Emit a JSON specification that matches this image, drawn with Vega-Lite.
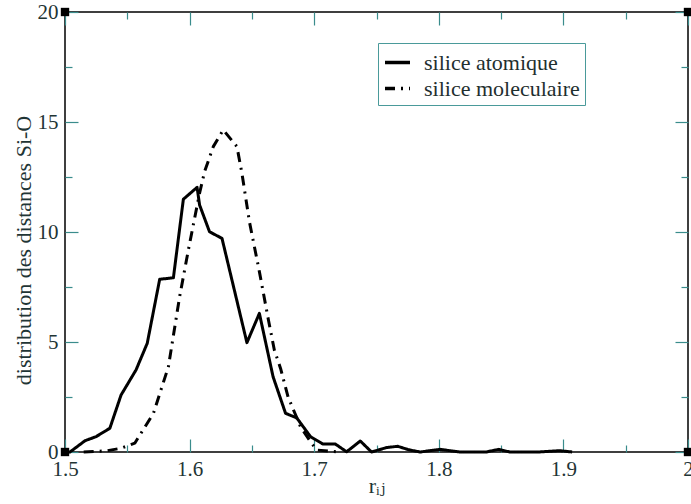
{
  "$schema": "https://vega.github.io/schema/vega-lite/v6.json",
  "width": 623,
  "height": 440,
  "autosize": {"type": "none"},
  "padding": {"left": 65, "top": 12, "right": 3, "bottom": 52},
  "background": "white",
  "config": {
    "view": {"stroke": "black", "strokeWidth": 1.5},
    "axis": {
      "domain": false,
      "grid": false,
      "labelFont": "Liberation Serif, DejaVu Serif, serif",
      "labelFontSize": 21,
      "labelColor": "#1f3535",
      "labelFlush": false,
      "tickColor": "#3a8c8c",
      "tickWidth": 1.2,
      "titleFont": "Liberation Serif, DejaVu Serif, serif",
      "titleFontSize": 22,
      "titleFontWeight": "normal",
      "titleColor": "#1f3535"
    }
  },
  "datasets": {
    "curves": [
      {"serie": "silice atomique", "r": 1.500, "g": 0},
      {"serie": "silice atomique", "r": 1.504, "g": 0},
      {"serie": "silice atomique", "r": 1.516, "g": 0.51},
      {"serie": "silice atomique", "r": 1.525, "g": 0.70},
      {"serie": "silice atomique", "r": 1.536, "g": 1.08},
      {"serie": "silice atomique", "r": 1.545, "g": 2.59},
      {"serie": "silice atomique", "r": 1.557, "g": 3.73},
      {"serie": "silice atomique", "r": 1.566, "g": 4.94},
      {"serie": "silice atomique", "r": 1.576, "g": 7.85},
      {"serie": "silice atomique", "r": 1.587, "g": 7.92},
      {"serie": "silice atomique", "r": 1.595, "g": 11.49},
      {"serie": "silice atomique", "r": 1.606, "g": 12.03},
      {"serie": "silice atomique", "r": 1.608, "g": 11.23},
      {"serie": "silice atomique", "r": 1.616, "g": 10.01},
      {"serie": "silice atomique", "r": 1.626, "g": 9.71},
      {"serie": "silice atomique", "r": 1.646, "g": 4.97},
      {"serie": "silice atomique", "r": 1.656, "g": 6.30},
      {"serie": "silice atomique", "r": 1.667, "g": 3.42},
      {"serie": "silice atomique", "r": 1.677, "g": 1.76},
      {"serie": "silice atomique", "r": 1.686, "g": 1.55},
      {"serie": "silice atomique", "r": 1.697, "g": 0.70},
      {"serie": "silice atomique", "r": 1.707, "g": 0.36},
      {"serie": "silice atomique", "r": 1.717, "g": 0.36},
      {"serie": "silice atomique", "r": 1.726, "g": 0.01},
      {"serie": "silice atomique", "r": 1.737, "g": 0.50},
      {"serie": "silice atomique", "r": 1.746, "g": 0},
      {"serie": "silice atomique", "r": 1.758, "g": 0.20},
      {"serie": "silice atomique", "r": 1.767, "g": 0.26},
      {"serie": "silice atomique", "r": 1.776, "g": 0.10},
      {"serie": "silice atomique", "r": 1.785, "g": 0},
      {"serie": "silice atomique", "r": 1.801, "g": 0.12},
      {"serie": "silice atomique", "r": 1.817, "g": 0},
      {"serie": "silice atomique", "r": 1.838, "g": 0},
      {"serie": "silice atomique", "r": 1.848, "g": 0.12},
      {"serie": "silice atomique", "r": 1.857, "g": 0},
      {"serie": "silice atomique", "r": 1.880, "g": 0},
      {"serie": "silice atomique", "r": 1.897, "g": 0.06},
      {"serie": "silice atomique", "r": 1.907, "g": 0},
      {"serie": "silice moleculaire", "r": 1.515, "g": 0},
      {"serie": "silice moleculaire", "r": 1.533, "g": 0.05},
      {"serie": "silice moleculaire", "r": 1.545, "g": 0.17},
      {"serie": "silice moleculaire", "r": 1.556, "g": 0.40},
      {"serie": "silice moleculaire", "r": 1.571, "g": 1.76},
      {"serie": "silice moleculaire", "r": 1.583, "g": 3.88},
      {"serie": "silice moleculaire", "r": 1.592, "g": 7.06},
      {"serie": "silice moleculaire", "r": 1.599, "g": 9.18},
      {"serie": "silice moleculaire", "r": 1.604, "g": 10.62},
      {"serie": "silice moleculaire", "r": 1.608, "g": 11.76},
      {"serie": "silice moleculaire", "r": 1.612, "g": 12.74},
      {"serie": "silice moleculaire", "r": 1.619, "g": 13.88},
      {"serie": "silice moleculaire", "r": 1.627, "g": 14.64},
      {"serie": "silice moleculaire", "r": 1.638, "g": 13.88},
      {"serie": "silice moleculaire", "r": 1.642, "g": 12.67},
      {"serie": "silice moleculaire", "r": 1.648, "g": 10.47},
      {"serie": "silice moleculaire", "r": 1.656, "g": 8.20},
      {"serie": "silice moleculaire", "r": 1.663, "g": 6.08},
      {"serie": "silice moleculaire", "r": 1.668, "g": 4.64},
      {"serie": "silice moleculaire", "r": 1.673, "g": 3.80},
      {"serie": "silice moleculaire", "r": 1.679, "g": 2.51},
      {"serie": "silice moleculaire", "r": 1.689, "g": 1.15},
      {"serie": "silice moleculaire", "r": 1.697, "g": 0.47},
      {"serie": "silice moleculaire", "r": 1.702, "g": 0.09},
      {"serie": "silice moleculaire", "r": 1.720, "g": 0}
    ],
    "corners": [
      {"r": 1.5, "g": 0},
      {"r": 2.0, "g": 0},
      {"r": 1.5, "g": 20},
      {"r": 2.0, "g": 20}
    ]
  },
  "layer": [
    {
      "data": {"name": "curves"},
      "mark": {"type": "line", "stroke": "black", "strokeWidth": 3, "strokeJoin": "round"},
      "encoding": {
        "x": {
          "field": "r", "type": "quantitative",
          "scale": {"domain": [1.5, 2.0], "nice": false, "zero": false},
          "axis": {
            "orient": "bottom",
            "values": [1.5, 1.6, 1.7, 1.8, 1.9, 2.0],
            "format": ".1~f",
            "tickSize": -13,
            "labelPadding": 19,
            "title": "rᵢⱼ",
            "titleBaseline": "alphabetic",
            "titleY": 40
          }
        },
        "y": {
          "field": "g", "type": "quantitative",
          "scale": {"domain": [0, 20], "nice": false},
          "axis": {
            "orient": "left",
            "values": [0, 5, 10, 15, 20],
            "tickSize": -13,
            "labelPadding": 20,
            "title": "distribution des distances Si-O",
            "titleBaseline": "alphabetic",
            "titleX": -35,
            "titleY": 238
          }
        },
        "strokeDash": {
          "field": "serie", "type": "nominal",
          "scale": {"domain": ["silice atomique", "silice moleculaire"], "range": [[1, 0], [10, 6, 2, 6]]},
          "legend": {
            "orient": "none",
            "legendX": 313,
            "legendY": 31,
            "title": null,
            "symbolType": "stroke",
            "symbolSize": 625,
            "symbolStrokeWidth": 3.5,
            "symbolStrokeColor": "black",
            "labelFont": "Liberation Serif, DejaVu Serif, serif",
            "labelFontSize": 22,
            "labelColor": "#1f2f2f",
            "labelOffset": 12,
            "strokeColor": "#4a9a9a",
            "fillColor": "white",
            "padding": 5,
            "rowPadding": 0
          }
        }
      }
    },
    {
      "data": {"name": "corners"},
      "mark": {"type": "point", "shape": "square", "filled": true, "color": "black", "size": 70, "opacity": 1},
      "encoding": {
        "x": {"field": "r", "type": "quantitative",
          "axis": {"orient": "top", "values": [1.5, 1.6, 1.7, 1.8, 1.9, 2.0], "tickSize": -13, "labels": false, "title": null}},
        "y": {"field": "g", "type": "quantitative",
          "axis": {"orient": "right", "values": [0, 5, 10, 15, 20], "tickSize": -13, "labels": false, "title": null}}
      }
    },
    {
      "data": {"name": "corners"},
      "mark": {"type": "point", "opacity": 0},
      "encoding": {
        "x": {"field": "r", "type": "quantitative",
          "axis": {"orient": "bottom", "values": [1.55, 1.65, 1.75, 1.85, 1.95], "tickSize": -7, "labels": false, "title": null}},
        "y": {"field": "g", "type": "quantitative",
          "axis": {"orient": "left", "values": [2.5, 7.5, 12.5, 17.5], "tickSize": -7, "labels": false, "title": null}}
      }
    },
    {
      "data": {"name": "corners"},
      "mark": {"type": "point", "opacity": 0},
      "encoding": {
        "x": {"field": "r", "type": "quantitative",
          "axis": {"orient": "top", "values": [1.55, 1.65, 1.75, 1.85, 1.95], "tickSize": -7, "labels": false, "title": null}},
        "y": {"field": "g", "type": "quantitative",
          "axis": {"orient": "right", "values": [2.5, 7.5, 12.5, 17.5], "tickSize": -7, "labels": false, "title": null}}
      }
    }
  ],
  "resolve": {"axis": {"x": "independent", "y": "independent"}}
}
